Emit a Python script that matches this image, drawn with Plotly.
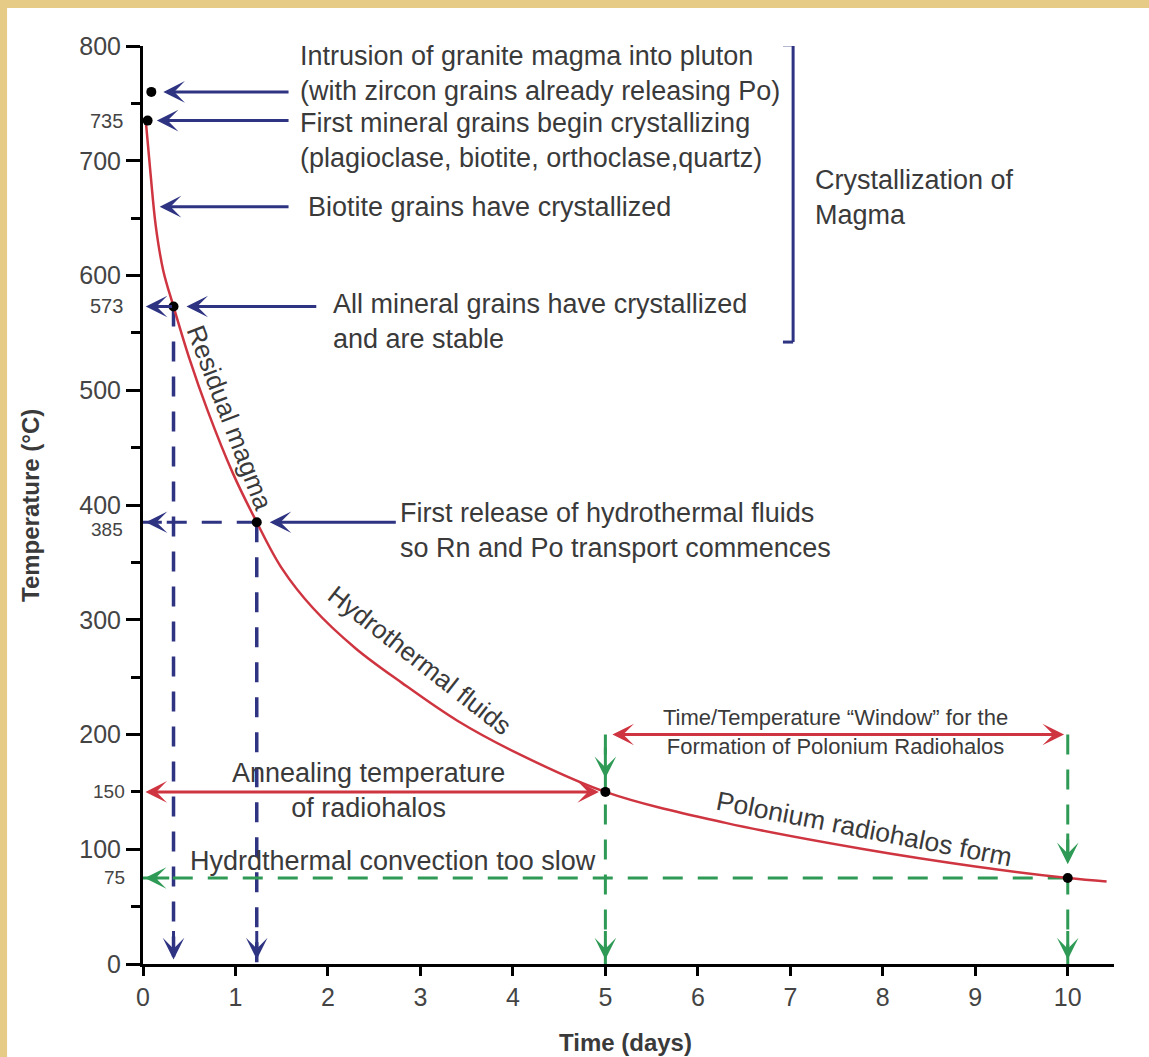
import plotly.graph_objects as go

# ---------------- data ----------------
time_days = [0.03, 0.08, 0.14, 0.22, 0.33, 0.50, 0.70, 0.97, 1.23, 1.50, 1.84, 2.30, 2.80, 3.40, 4.04,
             5.00, 6.30, 7.80, 9.00, 10.0, 10.42]
temp_c    = [735, 690, 642, 604, 573, 528, 482, 428, 385, 345, 310, 275, 245, 212, 184,
             150, 123, 100, 85, 75, 72]

event_t = [0.09, 0.05, 0.33, 1.23, 5.0, 10.0]
event_T = [760, 735, 573, 385, 150, 75]

y_major_ticks = [0, 100, 200, 300, 400, 500, 600, 700, 800]
y_minor_ticks = [50, 150, 250, 350, 450, 550, 650, 750]
y_extra_labels = [735, 573, 385]
y_extra_small = [150, 75]
x_ticks = [0, 1, 2, 3, 4, 5, 6, 7, 8, 9, 10]

FONT = "Liberation Sans, Arial, sans-serif"
NAVY = "#2E3382"
RED = "#CF3540"
GREEN = "#2E9A55"
TXT = "#3A3A3A"

fig = go.Figure()

# dashed guide lines (navy)
fig.add_trace(go.Scatter(x=[event_t[2], event_t[2]], y=[event_T[2], 0], mode="lines",
                         line=dict(color=NAVY, width=3.5, dash="20px,15px"), hoverinfo="skip"))
fig.add_trace(go.Scatter(x=[event_t[3], event_t[3]], y=[event_T[3], 0], mode="lines",
                         line=dict(color=NAVY, width=3.5, dash="20px,15px"), hoverinfo="skip"))
fig.add_trace(go.Scatter(x=[event_t[3], 0], y=[event_T[3], event_T[3]], mode="lines",
                         line=dict(color=NAVY, width=3, dash="20px,15px"), hoverinfo="skip"))
# dashed guide lines (green)
fig.add_trace(go.Scatter(x=[event_t[4], event_t[4]], y=[200, 0], mode="lines",
                         line=dict(color=GREEN, width=3, dash="20px,15px"), hoverinfo="skip"))
fig.add_trace(go.Scatter(x=[event_t[5], event_t[5]], y=[200, 0], mode="lines",
                         line=dict(color=GREEN, width=3, dash="20px,15px"), hoverinfo="skip"))
fig.add_trace(go.Scatter(x=[event_t[5], 0], y=[event_T[5], event_T[5]], mode="lines",
                         line=dict(color=GREEN, width=3, dash="20px,15px"), hoverinfo="skip"))

# cooling curve
fig.add_trace(go.Scatter(x=time_days, y=temp_c, mode="lines",
                         line=dict(color=RED, width=2.5, shape="spline", smoothing=1.0),
                         hoverinfo="skip"))
# event dots
fig.add_trace(go.Scatter(x=event_t, y=event_T, mode="markers",
                         marker=dict(color="black", size=10), hoverinfo="skip", cliponaxis=False))

ann = []

def arrow(x, y, ax, ay, color, width=3, head=3, size=1.2, both=False):
    d = dict(x=x, y=y, ax=ax, ay=ay, xref="x", yref="y", axref="x", ayref="y",
             text="", showarrow=True, arrowhead=head, arrowsize=size,
             arrowwidth=width, arrowcolor=color)
    if both:
        d.update(arrowside="end+start", startarrowhead=head, startarrowsize=size)
    ann.append(d)

def label(x, y, text, size=27, xanchor="left", align="left", color=TXT, angle=0, family=FONT):
    ann.append(dict(x=x, y=y, xref="x", yref="y", text=text, showarrow=False,
                    xanchor=xanchor, yanchor="middle", align=align, textangle=angle,
                    font=dict(family=family, size=size, color=color)))

# navy solid arrows from the text
arrow(0.22, 760, 1.59, 760, NAVY)
arrow(0.15, 735, 1.59, 735, NAVY)
arrow(0.18, 660, 1.59, 660, NAVY)
arrow(0.47, 573, 1.89, 573, NAVY)
arrow(1.37, 385, 2.75, 385, NAVY)
# short arrows to the axis
arrow(0.03, 573, event_t[2], 573, NAVY)
arrow(0.03, 385, 0.22, 385, NAVY)
# down arrows on navy dashed lines
arrow(event_t[2], 4, event_t[2], 30, NAVY)
arrow(event_t[3], 4, event_t[3], 30, NAVY)
# green arrowheads
arrow(5, 162, 5, 190, GREEN)
arrow(5, 4, 5, 30, GREEN)
arrow(10, 87, 10, 115, GREEN)
arrow(10, 4, 10, 30, GREEN)
arrow(0.02, 75, 0.3, 75, GREEN)
# red double arrows
arrow(4.93, 150, 0.01, 150, RED, both=True)
arrow(9.96, 200, 5.06, 200, RED, both=True)

# text annotations
label(1.68, 776, "Intrusion of granite magma into pluton<br>(with zircon grains already releasing Po)")
label(1.68, 718, "First mineral grains begin crystallizing<br>(plagioclase, biotite, orthoclase,quartz)")
label(1.76, 660, "Biotite grains have crystallized")
label(2.03, 560, "All mineral grains have crystallized<br>and are stable")
label(2.76, 378, "First release of hydrothermal fluids<br>so Rn and Po transport commences")
label(7.24, 668, "Crystallization of<br>Magma")
label(2.44, 151, "Annealing temperature<br>of radiohalos", xanchor="center", align="center")
label(0.49, 90, "Hydrdthermal convection too slow")
label(7.49, 202, "Time/Temperature “Window” for the<br>Formation of Polonium Radiohalos",
      size=22, xanchor="center", align="center")
label(0.94, 476, "Residual magma", size=26, xanchor="center", align="center", angle=69)
label(2.99, 265, "Hydrothermal fluids", size=26, xanchor="center", align="center", angle=38)
label(7.80, 118, "Polonium radiohalos form", size=26.5, xanchor="center", align="center", angle=11)

# extra y labels
for v in y_extra_labels:
    ann.append(dict(x=0, y=v, xref="x", yref="y", text=str(v), showarrow=False,
                    xanchor="right", yanchor="middle", xshift=-18, yshift=-7 if v == 385 else 0,
                    font=dict(family=FONT, size=19 if v == 385 else 20, color="#444")))
for v in y_extra_small:
    ann.append(dict(x=0, y=v, xref="x", yref="y", text=str(v), showarrow=False,
                    xanchor="right", yanchor="middle", xshift=-16,
                    font=dict(family=FONT, size=19, color="#444")))

# axis titles (paper-referenced so they are not hidden)
ann.append(dict(x=0.497, y=-0.085, xref="paper", yref="paper", text="<b>Time (days)</b>",
                showarrow=False, xanchor="center", yanchor="middle",
                font=dict(family=FONT, size=24, color=TXT)))
ann.append(dict(x=-0.1164, y=0.5, xref="paper", yref="paper", text="<b>Temperature (°C)</b>",
                showarrow=False, xanchor="center", yanchor="middle", textangle=-90,
                font=dict(family=FONT, size=24, color=TXT)))

shapes = [
    # white sheet on tan background
    dict(type="rect", xref="paper", yref="paper", x0=-0.14, x1=1.1, y0=-0.12, y1=1.0414,
         fillcolor="white", line=dict(width=0), layer="below"),
    # bracket
    dict(type="line", xref="x", yref="y", x0=7.03, x1=7.03, y0=801, y1=542,
         line=dict(color=NAVY, width=3)),
    dict(type="line", xref="x", yref="y", x0=6.92, x1=7.03, y0=801, y1=801,
         line=dict(color=NAVY, width=3)),
    dict(type="line", xref="x", yref="y", x0=6.92, x1=7.03, y0=542, y1=542,
         line=dict(color=NAVY, width=3)),
]

fig.update_layout(
    width=1149, height=1057,
    margin=dict(l=143, r=35, t=46, b=93),
    paper_bgcolor="#E6CB86",
    plot_bgcolor="white",
    showlegend=False,
    annotations=ann,
    shapes=shapes,
    font=dict(family=FONT, color="#444"),
)
fig.update_xaxes(range=[0, 10.5], showgrid=False, zeroline=False, showline=True,
                 linecolor="black", linewidth=3, ticks="outside", ticklen=9, tickwidth=2.5,
                 tickcolor="black", tickvals=x_ticks, ticktext=[str(v) for v in x_ticks],
                 tickfont=dict(family=FONT, size=25, color="#444"))
fig.update_yaxes(range=[0, 800], showgrid=False, zeroline=False, showline=True,
                 linecolor="black", linewidth=3, ticks="outside", ticklen=14, tickwidth=2.5,
                 tickcolor="black", tickvals=y_major_ticks, ticktext=[str(v) for v in y_major_ticks],
                 tickfont=dict(family=FONT, size=25, color="#444"),
                 minor=dict(tickvals=y_minor_ticks, ticks="outside", ticklen=9, tickwidth=2.5,
                            tickcolor="black", showgrid=False))

fig.write_html("out.html", config={"displayModeBar": False},
               post_script="document.body.style.margin='0px';")
